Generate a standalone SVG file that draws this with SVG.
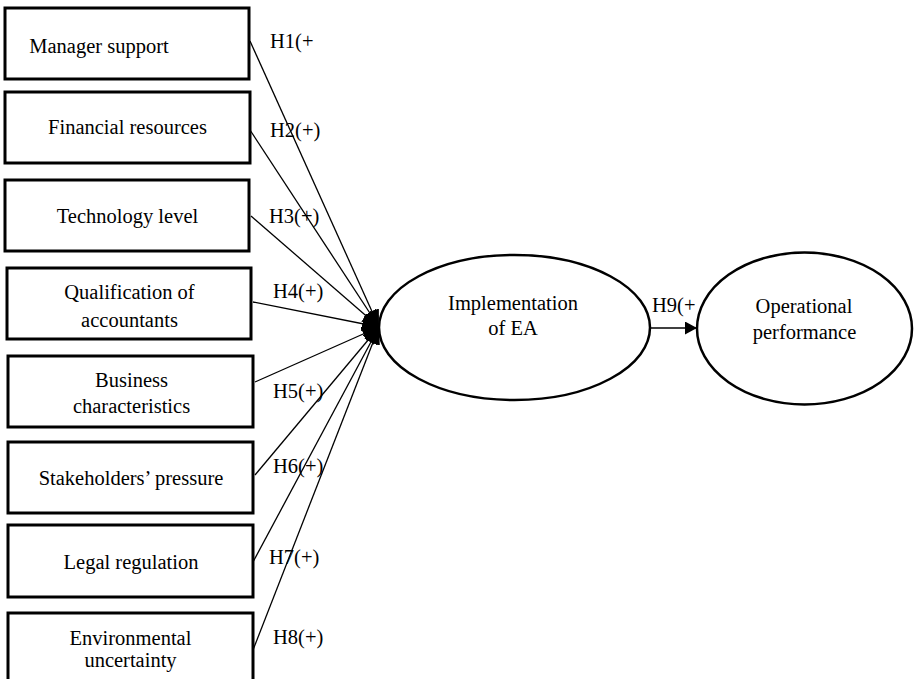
<svg xmlns="http://www.w3.org/2000/svg" width="916" height="679" viewBox="0 0 916 679">
<style>
.box{fill:#fff;stroke:#000;stroke-width:3}
.ell{fill:#fff;stroke:#000;stroke-width:2.5}
text{font-family:"Liberation Serif","Times New Roman",serif;font-size:20.5px;fill:#000}
.c{text-anchor:middle}
.ln{stroke:#000;stroke-width:1.3;fill:none}
</style>
<defs>
<marker id="ah" markerUnits="userSpaceOnUse" markerWidth="17" markerHeight="15" viewBox="0 0 17 15" refX="17" refY="7.5" orient="auto">
<path d="M0,0 L17,7.5 L0,15 z" fill="#000"/>
</marker>
<marker id="ah2" markerUnits="userSpaceOnUse" markerWidth="12" markerHeight="13" viewBox="0 0 12 13" refX="12" refY="6.5" orient="auto">
<path d="M0,0 L12,6.5 L0,13 z" fill="#000"/>
</marker>
</defs>
<rect width="916" height="679" fill="#fff"/>
<g id="n1"><rect class="box" x="5" y="8" width="244" height="71"/><text x="99" y="53" class="c">Manager support</text></g>
<g id="n2"><rect class="box" x="5" y="92" width="245" height="71"/><text x="127.5" y="134" class="c">Financial resources</text></g>
<g id="n3"><rect class="box" x="5" y="180" width="244" height="71"/><text x="127.5" y="223" class="c">Technology level</text></g>
<g id="n4"><rect class="box" x="7" y="268" width="244" height="71"/><text x="129.5" y="299" class="c">Qualification of</text><text x="129.5" y="327" class="c">accountants</text></g>
<g id="n5"><rect class="box" x="8" y="356" width="245" height="71"/><text x="131.5" y="387" class="c">Business</text><text x="131.5" y="413" class="c">characteristics</text></g>
<g id="n6"><rect class="box" x="8" y="442" width="245" height="71"/><text x="131" y="485" class="c">Stakeholders’ pressure</text></g>
<g id="n7"><rect class="box" x="8" y="525" width="245" height="72"/><text x="131" y="569" class="c">Legal regulation</text></g>
<g id="n8"><rect class="box" x="8" y="613" width="245" height="80"/><text x="130.5" y="645" class="c">Environmental</text><text x="130.5" y="667" class="c">uncertainty</text></g>
<g id="n9"><ellipse class="ell" cx="514.5" cy="327.5" rx="135.5" ry="72.5"/><text x="513" y="310" class="c">Implementation</text><text x="513" y="335" class="c">of EA</text></g>
<g id="n10"><ellipse class="ell" cx="804.5" cy="328.5" rx="107.5" ry="76"/><text x="804" y="313" class="c">Operational</text><text x="804.5" y="339" class="c">performance</text></g>
<g id="connectors">
<line class="ln" x1="250" y1="41" x2="379" y2="327" marker-end="url(#ah)"/>
<line class="ln" x1="250" y1="130" x2="379" y2="327" marker-end="url(#ah)"/>
<line class="ln" x1="251" y1="216" x2="379" y2="327" marker-end="url(#ah)"/>
<line class="ln" x1="253" y1="302" x2="379" y2="327" marker-end="url(#ah)"/>
<line class="ln" x1="255" y1="382" x2="379" y2="327" marker-end="url(#ah)"/>
<line class="ln" x1="255" y1="475" x2="379" y2="327" marker-end="url(#ah)"/>
<line class="ln" x1="253" y1="562" x2="379" y2="327" marker-end="url(#ah)"/>
<line class="ln" x1="253" y1="650" x2="379" y2="327" marker-end="url(#ah)"/>
<line class="ln" x1="650" y1="328" x2="697" y2="328" marker-end="url(#ah2)"/>
</g>
<g id="labels">
<text x="270" y="48">H1(+</text>
<text x="270" y="137">H2(+)</text>
<text x="269" y="223">H3(+)</text>
<text x="273" y="298">H4(+)</text>
<text x="273" y="398">H5(+)</text>
<text x="273" y="473">H6(+)</text>
<text x="269" y="564">H7(+)</text>
<text x="273" y="644">H8(+)</text>
<text x="652" y="312">H9(+</text>
</g>
</svg>
